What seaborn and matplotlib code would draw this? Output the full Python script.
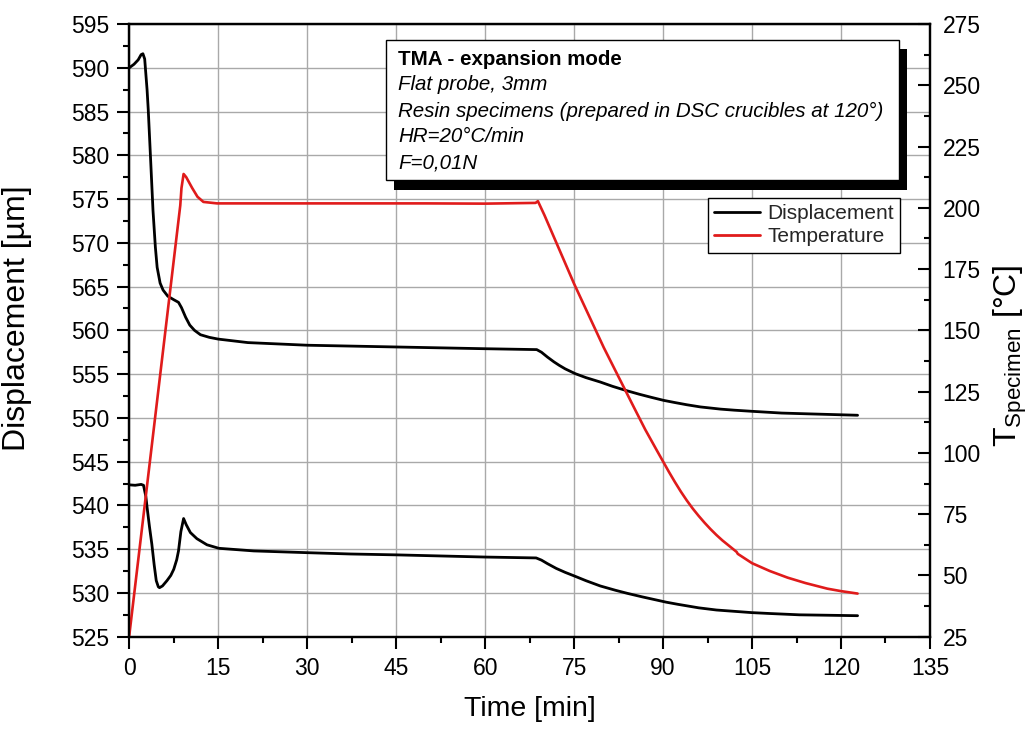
import numpy as np
import pandas as pd
import matplotlib
matplotlib.use("Agg")
import matplotlib.pyplot as plt
from matplotlib.patches import Rectangle
from matplotlib.lines import Line2D
from matplotlib.ticker import MultipleLocator
import seaborn as sns

# --- measured data -------------------------------------------------------
# upper displacement curve
t_disp_a = [0, 0.8, 1.5, 2.0, 2.3, 2.6, 3.0, 3.2, 3.6, 4.0, 4.4, 4.7, 5.2, 5.7,
            6.5, 7.5, 8.3, 8.8, 9.5, 10.2, 11.0, 12.0, 13.5, 15, 20, 30, 45,
            60, 68.7, 69.5, 70.5, 71.6, 72.5, 73.5, 75.2, 77, 79.4, 81.5,
            83.9, 86, 88, 90.1, 92, 94, 96.3, 99.7, 102, 105, 110, 115, 122.8]
disp_a = [590.0, 590.4, 590.9, 591.5, 591.6, 591.0, 587.5, 585.2, 579.5, 573.7,
          569.5, 567.2, 565.4, 564.6, 563.9, 563.5, 563.2, 562.6, 561.5, 560.6,
          560.0, 559.5, 559.2, 559.0, 558.6, 558.3, 558.1, 557.9, 557.8, 557.5,
          556.95, 556.4, 556.0, 555.6, 555.05, 554.6, 554.1, 553.6, 553.1,
          552.7, 552.35, 552.0, 551.75, 551.5, 551.25, 551.0, 550.88, 550.75,
          550.55, 550.45, 550.3]

# lower displacement curve
t_disp_b = [0, 1.0, 2.0, 2.4, 2.8, 3.0, 3.4, 3.8, 4.2, 4.55, 4.9, 5.1, 5.6, 6.35,
            7.0, 7.5, 8.0, 8.3, 8.7, 9.16, 9.6, 10.3, 11.4, 13.1, 15.1, 21, 30,
            37.3, 45, 60, 68.6, 69.5, 70.5, 72, 73.5, 75, 77, 79.4, 82, 84,
            86.5, 88.5, 90.5, 92.5, 96, 99, 102, 105, 108, 113, 118, 122.8]
disp_b = [542.35, 542.3, 542.4, 542.3, 541.0, 539.8, 537.6, 535.6, 533.2, 531.4,
          530.7, 530.6, 530.8, 531.4, 532.0, 532.7, 533.8, 534.8, 537.0, 538.5,
          537.8, 536.9, 536.2, 535.5, 535.1, 534.8, 534.6, 534.45, 534.35,
          534.1, 534.0, 533.75, 533.35, 532.8, 532.35, 531.95, 531.4, 530.8,
          530.3, 529.95, 529.55, 529.25, 528.95, 528.7, 528.3, 528.05, 527.9,
          527.75, 527.65, 527.5, 527.45, 527.4]

# specimen temperature
t_temp = [0, 8.6, 8.8, 9.16, 9.6, 10.6, 11.5, 12.5, 14.8, 30, 50, 60, 68.5,
          68.9, 70, 72.5, 75, 77.5, 80, 82.5, 85, 87, 89, 90, 91, 92, 93, 94,
          95, 96, 97, 98, 99, 100, 102.4, 102.6, 105, 108, 111, 114, 117.7,
          120, 122.8]
temp = [25.5, 201.0, 208.0, 213.8, 212.5, 208.1, 204.5, 202.4, 201.8, 201.8,
        201.8, 201.7, 202.0, 202.7, 197.0, 183.0, 169.0, 156.0, 143.0, 131.0,
        119.0, 109.5, 100.8, 96.5, 92.2, 88.1, 84.2, 80.6, 77.3, 74.3, 71.5,
        68.9, 66.5, 64.3, 59.6, 58.8, 55.0, 51.8, 49.1, 46.9, 44.6, 43.6, 42.6]

x_ticks = list(range(0, 136, 15))
y_left_ticks = list(range(525, 596, 5))
y_right_ticks = list(range(25, 276, 25))

info_title = "TMA - expansion mode"
info_lines = ["Flat probe, 3mm",
              "Resin specimens (prepared in DSC crucibles at 120°)",
              "HR=20°C/min",
              "F=0,01N"]

# --- style ---------------------------------------------------------------
sns.set_theme(style="ticks")
plt.rcParams["font.family"] = ["Liberation Sans", "DejaVu Sans"]
plt.rcParams["mathtext.fontset"] = "custom"
plt.rcParams["mathtext.rm"] = "Liberation Sans"
plt.rcParams["mathtext.it"] = "Liberation Sans:italic"
plt.rcParams["mathtext.bf"] = "Liberation Sans:bold"

BLACK = "#000000"
RED = "#e01b1b"
GRID = "#a9a9a9"

fig = plt.figure(figsize=(10.35, 7.29), dpi=100)
ax = fig.add_axes([0.1249, 0.1266, 0.7736, 0.8405])
ax2 = ax.twinx()

df_a = pd.DataFrame({"t": t_disp_a, "v": disp_a})
df_b = pd.DataFrame({"t": t_disp_b, "v": disp_b})
df_t = pd.DataFrame({"t": t_temp, "v": temp})

sns.lineplot(data=df_a, x="t", y="v", ax=ax, color=BLACK, lw=2.0,
             estimator=None, sort=False)
sns.lineplot(data=df_b, x="t", y="v", ax=ax, color=BLACK, lw=2.0,
             estimator=None, sort=False)
sns.lineplot(data=df_t, x="t", y="v", ax=ax2, color=RED, lw=1.9,
             estimator=None, sort=False)

# axes ranges and ticks
ax.set_xlim(0, 135)
ax.set_ylim(525, 595)
ax2.set_ylim(25, 275)
ax.set_xticks(x_ticks)
ax.set_yticks(y_left_ticks)
ax2.set_yticks(y_right_ticks)
ax.xaxis.set_minor_locator(MultipleLocator(7.5))
ax.yaxis.set_minor_locator(MultipleLocator(2.5))
ax2.yaxis.set_minor_locator(MultipleLocator(12.5))

ax.grid(True, which="major", color=GRID, lw=1.0)
ax.set_axisbelow(True)

for sp in list(ax.spines.values()) + list(ax2.spines.values()):
    sp.set_linewidth(1.6)
    sp.set_color(BLACK)
    sp.set_visible(True)

ax.tick_params(axis="both", which="major", direction="out", length=8.5,
               width=1.5, labelsize=16.5, color=BLACK, labelcolor=BLACK, pad=6)
ax.tick_params(axis="both", which="minor", direction="out", length=4.5,
               width=1.5, color=BLACK)
ax.tick_params(axis="y", right=False, which="both")
ax.tick_params(axis="x", top=False, which="both")
ax2.tick_params(axis="y", which="major", direction="in", length=8.5,
                width=1.5, labelsize=16.5, color=BLACK, labelcolor=BLACK, pad=9)
ax2.tick_params(axis="y", which="minor", direction="in", length=4.5,
                width=1.5, color=BLACK)

ax.set_xlabel("Time [min]", fontsize=20.5, color=BLACK)
ax.set_ylabel("Displacement [µm]", fontsize=23, color=BLACK)
ax2.set_ylabel(r"T$_{\mathrm{Specimen}}$ [°C]", fontsize=23, color=BLACK)
ax.xaxis.set_label_coords(0.5, -0.097)
ax.yaxis.set_label_coords(-0.122, 0.52)
ax2.yaxis.set_label_coords(1.077, 0.458)

# info box with drop shadow
x0, x1, y0, y1 = 0.3206, 0.9613, 0.745, 0.974
ax2.add_patch(Rectangle((x0 + 0.0106, y0 - 0.0155), x1 - x0, y1 - y0,
                        transform=ax2.transAxes, facecolor=BLACK,
                        edgecolor=BLACK, lw=0, zorder=5))
ax2.add_patch(Rectangle((x0, y0), x1 - x0, y1 - y0,
                        transform=ax2.transAxes, facecolor="white",
                        edgecolor=BLACK, lw=1.0, zorder=6))
line_y = [0.9413, 0.9005, 0.858, 0.8156, 0.7732]
ax2.text(0.3356, line_y[0], info_title, transform=ax2.transAxes,
         fontsize=14.8, fontweight="bold", va="center", ha="left",
         color=BLACK, zorder=7)
for yy, s in zip(line_y[1:], info_lines):
    ax2.text(0.3356, yy, s, transform=ax2.transAxes, fontsize=14.8,
             fontstyle="italic", va="center", ha="left", color=BLACK,
             zorder=7)

# legend
handles = [Line2D([], [], color=BLACK, lw=2.0),
           Line2D([], [], color=RED, lw=2.0)]
leg = ax2.legend(handles, ["Displacement", "Temperature"],
                 loc="upper right", bbox_to_anchor=(0.9625, 0.716),
                 fontsize=15, frameon=True, fancybox=False, shadow=False,
                 framealpha=1.0, edgecolor=BLACK, borderpad=0.3,
                 labelspacing=0.2, handlelength=2.2, handletextpad=0.35,
                 borderaxespad=0.0)
leg.get_frame().set_linewidth(1.0)
leg.set_zorder(8)

fig.savefig("out.png", dpi=100, facecolor="white")
